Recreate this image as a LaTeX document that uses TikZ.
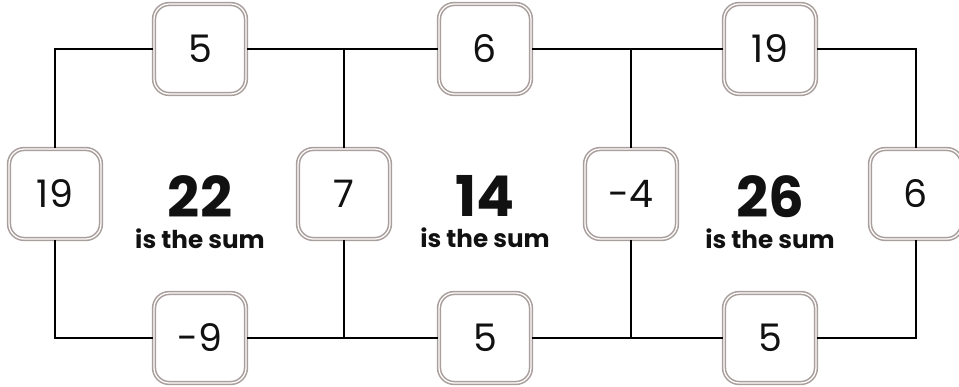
\documentclass[tikz,border=0pt]{standalone}
\usepackage{fontspec}
\setmainfont{Poppins}
\usepackage{tikz}
\usetikzlibrary{positioning,calc}
\definecolor{bxGray}{HTML}{A99E9C}
\definecolor{bxInk}{HTML}{111111}
\newcommand{\sumline}{\fontsize{17.5}{22.5}\selectfont is the sum}
\tikzset{
  numBox/.style={draw=bxGray,double=white,line width=1.1pt,double distance=0.9pt,
    fill=white,rounded corners=0.38cm,minimum width=2.3cm,minimum height=2.25cm,
    inner sep=0pt,font=\fontsize{27}{27}\selectfont,text=bxInk},
  wire/.style={line width=1.4pt,draw=black},
  sumNode/.style={anchor=north,inner sep=0pt,align=center,
    font=\bfseries\fontsize{40}{22.5}\selectfont,text=bxInk}
}
\begin{document}
\begin{tikzpicture}[x=1cm,y=1cm]
\path[use as bounding box] (0,0) rectangle (23.975,9.675);
% top row
\node[numBox] (top1) at (5.0,8.45) {5};
\node[numBox] (top2) at (12.125,8.45) {6};
\node[numBox] (top3) at (19.25,8.45) {19};
% middle column
\node[numBox] (midA) at (1.375,4.825) {19};
\node[numBox] (midB) at (8.6,4.825) {7};
\node[numBox] (midC) at (15.775,4.825) {-4};
\node[numBox] (midD) at (22.9,4.825) {6};
% bottom row
\node[numBox] (bot1) at (5.0,1.225) {-9};
\node[numBox] (bot2) at (12.125,1.225) {5};
\node[numBox] (bot3) at (19.25,1.225) {5};
% the frame
\draw[wire] (midA.north) |- (top1.west);
\draw[wire] (top1.east) -- (top2.west);
\draw[wire] (top2.east) -- (top3.west);
\draw[wire] (top3.east) -| (midD.north);
\draw[wire] (midA.south) |- (bot1.west);
\draw[wire] (bot1.east) -- (bot2.west);
\draw[wire] (bot2.east) -- (bot3.west);
\draw[wire] (bot3.east) -| (midD.south);
\draw[wire] (midB.north) -- (midB.north |- top1.east);
\draw[wire] (midB.south) -- (midB.south |- bot1.east);
\draw[wire] (midC.north) -- (midC.north |- top1.east);
\draw[wire] (midC.south) -- (midC.south |- bot1.east);
% sums
\node[sumNode] (sum1) at (5.0,5.3) {22\\\sumline};
\node[sumNode] (sum2) at (12.125,5.3) {14\\\sumline};
\node[sumNode] (sum3) at (19.25,5.3) {26\\\sumline};
\end{tikzpicture}
\end{document}
